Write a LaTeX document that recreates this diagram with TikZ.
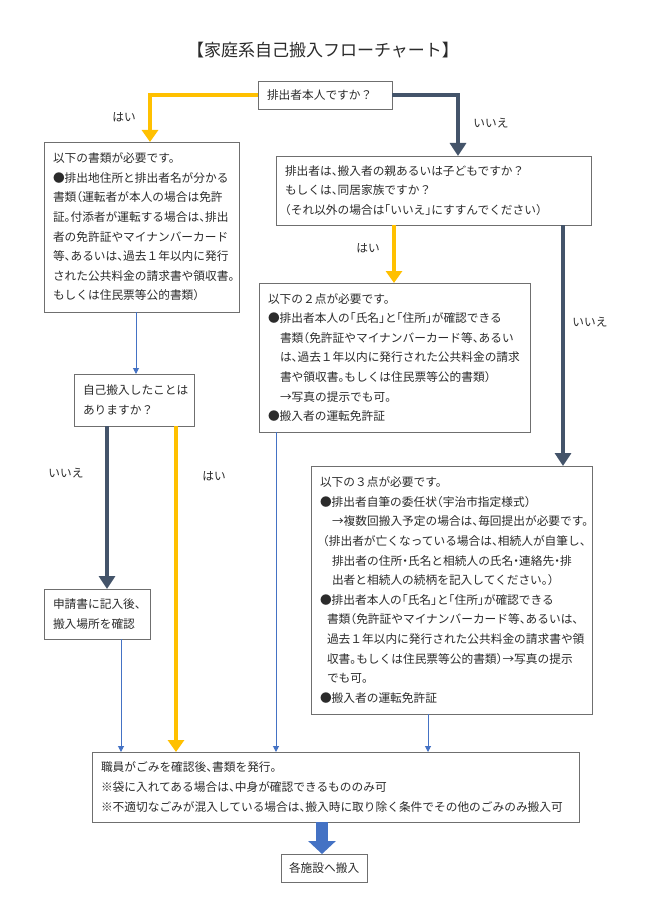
\documentclass[tikz,border=0pt]{standalone}
\usepackage{fontspec}
\setmainfont{Noto Sans CJK JP}[RawFeature=+halt]
\newfontfamily\titlefont{Noto Sans CJK JP}
\usetikzlibrary{arrows.meta}
\definecolor{yel}{HTML}{FFC000}
\definecolor{drk}{HTML}{44546A}
\definecolor{blu}{HTML}{4472C4}
\definecolor{boxgray}{HTML}{6F6F6F}
\definecolor{txt}{HTML}{2B2B2B}
\tikzset{
  basefont/.style={font=\fontsize{11.7}{19.6}\selectfont},
  box/.style={draw=boxgray, line width=0.8pt, fill=white, anchor=north west,
    align=flush left, inner xsep=9pt, inner ysep=0pt, outer sep=0pt,
    text=txt, basefont},
  lab/.style={text=txt, basefont, inner sep=0pt},
  yarr/.style={draw=yel, line width=4.5pt, -{Triangle[width=16pt,length=12pt]}},
  darr/.style={draw=drk, line width=4.5pt, -{Triangle[width=16pt,length=13pt]}},
  barr/.style={draw=blu, line width=1pt, -{Triangle[width=6pt,length=6pt]}},
  bigarr/.style={draw=blu, line width=12pt, -{Triangle[width=27pt,length=13pt]}}
}
\begin{document}
\begin{tikzpicture}[x=1pt,y=-1pt]
\fill[white] (0,0) rectangle (650,920);
\useasboundingbox (0,0) rectangle (650,920);

\node[text=txt, inner sep=0pt] (title) at (323,50)
  {\titlefont\fontsize{17}{20}\selectfont 【家庭系自己搬入フローチャート】};

\node[box, text width=116pt, minimum height=28pt] (T) at (258,81) {排出者本人ですか？};

\node[box, text width=177pt, minimum height=170pt] (L) at (44,142)
 {以下の書類が必要です。\\
  ●排出地住所と排出者名が分かる\\
  書類（運転者が本人の場合は免許\\
  証。付添者が運転する場合は、排出\\
  者の免許証やマイナンバーカード\\
  等、あるいは、過去１年以内に発行\\
  された公共料金の請求書や領収書。\\
  もしくは住民票等公的書類）};

\node[box, text width=297pt, minimum height=69pt] (R1) at (276,156)
 {排出者は、搬入者の親あるいは子どもですか？\\
  もしくは、同居家族ですか？\\
  （それ以外の場合は「いいえ」にすすんでください）};

\node[box, text width=253pt, minimum height=149pt] (R2) at (259,283)
 {以下の２点が必要です。\\
  ●排出者本人の「氏名」と「住所」が確認できる\\
  \hspace*{12pt}書類（免許証やマイナンバーカード等、あるい\\
  \hspace*{12pt}は、過去１年以内に発行された公共料金の請求\\
  \hspace*{12pt}書や領収書。もしくは住民票等公的書類）\\
  \hspace*{12pt}→写真の提示でも可。\\
  ●搬入者の運転免許証};

\node[box, text width=263pt, minimum height=248pt] (R3) at (311,466)
 {以下の３点が必要です。\\
  ●排出者自筆の委任状（宇治市指定様式）\\
  \hspace*{12pt}→複数回搬入予定の場合は、毎回提出が必要です。\\
  \hspace*{3pt}（排出者が亡くなっている場合は、相続人が自筆し、\\
  \hspace*{12pt}排出者の住所・氏名と相続人の氏名・連絡先・排\\
  \hspace*{12pt}出者と相続人の続柄を記入してください。）\\
  ●排出者本人の「氏名」と「住所」が確認できる\\
  \hspace*{7pt}書類（免許証やマイナンバーカード等、あるいは、\\
  \hspace*{7pt}過去１年以内に発行された公共料金の請求書や領\\
  \hspace*{7pt}収書。もしくは住民票等公的書類）→写真の提示\\
  \hspace*{7pt}でも可。\\
  ●搬入者の運転免許証};

\node[box, text width=102pt, minimum height=52pt] (S) at (74,374)
 {自己搬入したことは\\ありますか？};

\node[box, text width=88pt, minimum height=50pt] (A) at (44,589)
 {申請書に記入後、\\搬入場所を確認};

\node[box, text width=469pt, minimum height=70pt] (B) at (92,752)
 {職員がごみを確認後、書類を発行。\\
  ※袋に入れてある場合は、中身が確認できるもののみ可\\
  ※不適切なごみが混入している場合は、搬入時に取り除く条件でその他のごみのみ搬入可};

\node[box, align=center, inner xsep=8pt, text width=70pt, minimum height=28pt] (F) at (281,854)
 {各施設へ搬入};

\node[lab] (l1) at (124,117) {はい};
\node[lab] (l2) at (491,123) {いいえ};
\node[lab] (l3) at (368,248) {はい};
\node[lab] (l4) at (590,322) {いいえ};
\node[lab] (l5) at (66,473) {いいえ};
\node[lab] (l6) at (214,476) {はい};

\coordinate (xa) at (150,0);
\coordinate (xb) at (458,0);
\coordinate (xc) at (394,0);
\coordinate (xd) at (563,0);
\coordinate (xe) at (136,0);
\coordinate (xf) at (107,0);
\coordinate (xg) at (176,0);
\coordinate (xh) at (121,0);
\coordinate (xi) at (276,0);
\coordinate (xj) at (428,0);
\coordinate (xk) at (322,0);

\draw[yarr] (T.west) -| (L.north -| xa);
\draw[darr] (T.east) -| (R1.north -| xb);
\draw[yarr] (R1.south -| xc) -- (R2.north -| xc);
\draw[darr] (R1.south -| xd) -- (R3.north -| xd);
\draw[barr] (L.south -| xe) -- (S.north -| xe);
\draw[darr] (S.south -| xf) -- (A.north -| xf);
\draw[yarr] (S.south -| xg) -- (B.north -| xg);
\draw[barr] (A.south -| xh) -- (B.north -| xh);
\draw[barr] (R2.south -| xi) -- (B.north -| xi);
\draw[barr] (R3.south -| xj) -- (B.north -| xj);
\draw[bigarr] (B.south -| xk) -- (F.north -| xk);
\end{tikzpicture}
\end{document}
